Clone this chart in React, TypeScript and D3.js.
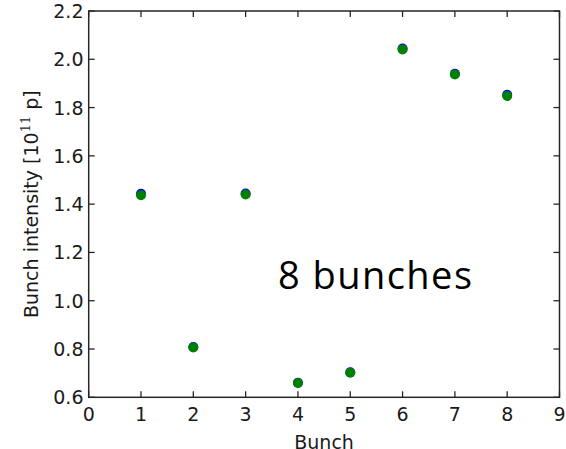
import React from "react";
import * as d3 from "d3";

const bunches = [1, 2, 3, 4, 5, 6, 7, 8];
const blueValues = [1.443, 0.808, 1.444, 0.66, 0.704, 2.045, 1.94, 1.853];
const greenValues = [1.437, 0.806, 1.44, 0.659, 0.702, 2.041, 1.937, 1.848];
const xTicks = [0, 1, 2, 3, 4, 5, 6, 7, 8, 9];
const yTicks = [0.6, 0.8, 1.0, 1.2, 1.4, 1.6, 1.8, 2.0, 2.2];

const W = 566;
const H = 449;
const left = 88.7;
const right = 559.5;
const top = 11;
const bottom = 397.3;

export default function App() {
  const x = d3.scaleLinear().domain([0, 9]).range([left, right]);
  const y = d3.scaleLinear().domain([0.6, 2.2]).range([bottom, top]);
  const font = "'DejaVu Sans', sans-serif";
  const axisColor = "#262626";
  const tickLen = 6;
  return (
    <svg
      width={W}
      height={H}
      style={{ position: "absolute", left: 0, top: 0, background: "#fff" }}
    >
      <rect x={0} y={0} width={W} height={H} fill="#fff" />
      {bunches.map((b, i) => (
        <circle key={"b" + i} cx={x(b)} cy={y(blueValues[i])} r={5} fill="#0000ff" />
      ))}
      {bunches.map((b, i) => (
        <circle key={"g" + i} cx={x(b)} cy={y(greenValues[i])} r={5} fill="#008000" />
      ))}
      <rect
        x={left}
        y={top}
        width={right - left}
        height={bottom - top}
        fill="none"
        stroke={axisColor}
        strokeWidth={1.5}
      />
      {xTicks.map((t) => (
        <g key={"xt" + t}>
          <line x1={x(t)} x2={x(t)} y1={bottom} y2={bottom - tickLen} stroke={axisColor} strokeWidth={1.3} />
          <line x1={x(t)} x2={x(t)} y1={top} y2={top + tickLen} stroke={axisColor} strokeWidth={1.3} />
          <text x={x(t)} y={421} textAnchor="middle" fontFamily={font} fontSize={19} fill="#1a1a1a">
            {t}
          </text>
        </g>
      ))}
      {yTicks.map((t) => (
        <g key={"yt" + t}>
          <line x1={left} x2={left + tickLen} y1={y(t)} y2={y(t)} stroke={axisColor} strokeWidth={1.3} />
          <line x1={right} x2={right - tickLen} y1={y(t)} y2={y(t)} stroke={axisColor} strokeWidth={1.3} />
          <text x={83.5} y={y(t) + 7} textAnchor="end" fontFamily={font} fontSize={19} fill="#1a1a1a">
            {t.toFixed(1)}
          </text>
        </g>
      ))}
      <text x={(left + right) / 2} y={449} textAnchor="middle" fontFamily={font} fontSize={19} fill="#1a1a1a">
        Bunch
      </text>
      <text
        transform={`translate(38,${(top + bottom) / 2}) rotate(-90)`}
        textAnchor="middle"
        fontFamily={font}
        fontSize={19}
        fill="#1a1a1a"
      >
        Bunch intensity [10
        <tspan fontSize={13} dy={-8} fontFamily="'DejaVu Serif', serif">11</tspan>
        <tspan dy={8}>{"  p]"}</tspan>
      </text>
      <text
        x={278}
        y={289}
        fontFamily="'Open Sans', sans-serif"
        fontSize={38}
        fill="#000"
        textLength={194}
        lengthAdjust="spacing"
      >
        8 bunches
      </text>
    </svg>
  );
}
